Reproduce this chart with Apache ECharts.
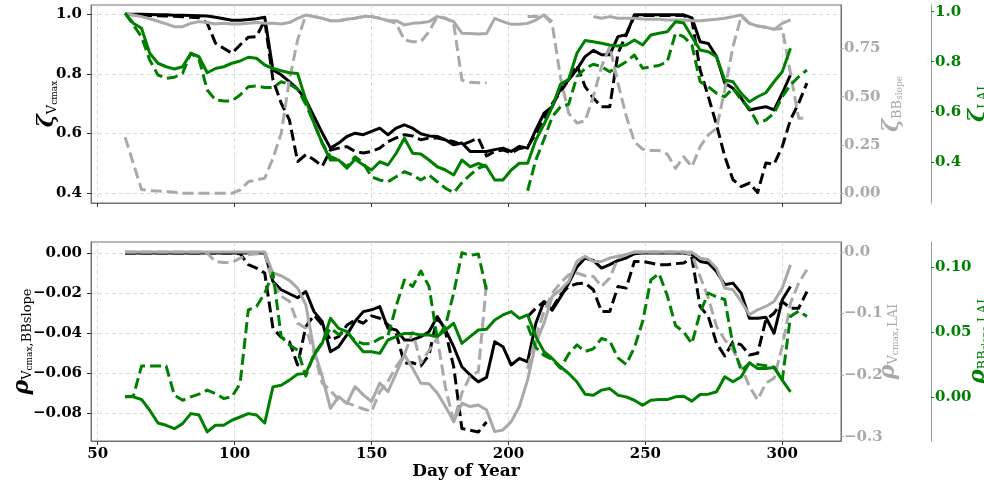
<!DOCTYPE html>
<html>
<head>
<meta charset="utf-8">
<script src="https://cdn.jsdelivr.net/npm/echarts@6/dist/echarts.min.js"></script>
<style>
  html, body { margin: 0; background: #fff; }
  #chart { width: 984px; height: 486px; }
</style>
</head>
<body>
<div id="chart"></div>
<script>
// day of year, one sample every 3 days
const days = [
  60, 63, 66, 69, 72, 75, 78, 81, 84, 87,
  90, 93, 96, 99, 102, 105, 108, 111, 114, 117,
  120, 123, 126, 129, 132, 135, 138, 141, 144, 147,
  150, 153, 156, 159, 162, 165, 168, 171, 174, 177,
  180, 183, 186, 189, 192, 195, 198, 201, 204, 207,
  210, 213, 216, 219, 222, 225, 228, 231, 234, 237,
  240, 243, 246, 249, 252, 255, 258, 261, 264, 267,
  270, 273, 276, 279, 282, 285, 288, 291, 294, 297,
  300, 303, 306, 309
];

// top panel: zeta values
const zetaVcmaxSolid = [
  1.0, 1.0, 1.0, 0.999, 0.998, 0.998, 0.997, 0.997, 0.996, 0.995,
  0.994, 0.99, 0.985, 0.98, 0.98, 0.982, 0.985, 0.99, 0.813, 0.797,
  0.774, 0.749, 0.713, 0.657, 0.602, 0.551, 0.568, 0.59, 0.601, 0.596,
  0.607, 0.618, 0.596, 0.618, 0.629, 0.618, 0.599, 0.592, 0.59, 0.579,
  0.562, 0.568, 0.54, 0.54, 0.54, 0.546, 0.551, 0.54, 0.557, 0.551,
  0.612, 0.668, 0.69, 0.75, 0.78, 0.815, 0.858, 0.879, 0.864, 0.864,
  0.925, 0.931, 0.998, 0.998, 0.998, 0.998, 0.998, 0.998, 0.998, 0.988,
  0.908, 0.902, 0.858, 0.769, 0.752, 0.719, 0.679, 0.685, 0.69, 0.679,
  0.735, 0.797, null, null
];
const zetaVcmaxDash = [
  1.0, 0.998, 0.997, 0.996, 0.995, 0.994, 0.993, 0.992, 0.99, 0.988,
  0.97, 0.903, 0.886, 0.869, 0.897, 0.923, 0.925, 0.98, 0.78, 0.702,
  0.646, 0.506, 0.529, 0.512, 0.49, 0.545, 0.551, 0.556, 0.54, 0.535,
  0.54, 0.551, 0.573, 0.585, 0.596, 0.592, 0.579, 0.585, 0.585, 0.579,
  0.573, 0.562, 0.573, 0.585, 0.525, 0.54, 0.545, 0.535, 0.55, 0.555,
  0.6, 0.65, 0.70, 0.74, 0.78, 0.83, 0.757, 0.719, 0.69, 0.69,
  0.869, 0.931, 0.994, 0.996, 0.996, 0.996, 0.996, 0.996, 0.996, 0.98,
  0.813, 0.724, 0.629, 0.523, 0.445, 0.422, 0.434, 0.402, 0.501, 0.497,
  0.556, 0.646, 0.702, 0.769
];
const zetaBBSolid = [
  0.93, 0.922, 0.914, 0.903, 0.89, 0.876, 0.862, 0.862, 0.879, 0.888,
  0.883, 0.876, 0.879, 0.876, 0.876, 0.879, 0.883, 0.879, 0.879, 0.876,
  0.883, 0.905, 0.922, 0.914, 0.905, 0.893, 0.893, 0.9, 0.905, 0.914,
  0.914, 0.905, 0.893, 0.893, 0.871, 0.879, 0.882, 0.888, 0.914, 0.905,
  0.888, 0.828, 0.826, 0.824, 0.826, 0.905, 0.888, 0.874, 0.874, 0.879,
  0.896, 0.922, 0.888, null, null, null, null, 0.914, 0.905, 0.914,
  0.905, 0.905, 0.905, 0.902, 0.9, 0.9, 0.897, 0.897, 0.897, 0.893,
  0.893, 0.897, 0.9, 0.905, 0.914, 0.922, 0.879, 0.865, 0.859, 0.848,
  0.879, 0.897, null, null
];
const zetaBBDash = [
  0.29, 0.155, 0.02, 0.014, 0.012, 0.01, 0.005, 0.0, 0.0, 0.0,
  0.0, 0.0, 0.0, 0.0, 0.017, 0.06, 0.069, 0.078, 0.181, 0.31,
  0.586, 0.793, 0.922, 0.914, 0.905, 0.893, 0.893, 0.9, 0.905, 0.914,
  0.914, 0.905, 0.893, 0.879, 0.793, 0.784, 0.784, 0.836, 0.914, 0.905,
  0.879, 0.586, 0.574, 0.572, 0.572, null, null, null, null, 0.914,
  0.914, 0.922, 0.875, 0.6, 0.414, 0.364, 0.375, 0.5, 0.655, 0.76,
  0.57, 0.40, 0.267, 0.228, 0.221, 0.221, 0.203, 0.129, 0.189, 0.138,
  0.241, 0.302, 0.336, 0.534, 0.759, 0.914, 0.879, 0.865, 0.859, 0.848,
  0.853, 0.621, 0.388, 0.388
];
const zetaLAISolid = [
  0.994, 0.954, 0.934, 0.834, 0.794, 0.78, 0.771, 0.78, 0.834, 0.82,
  0.756, 0.773, 0.78, 0.794, 0.803, 0.818, 0.814, 0.787, 0.773, 0.764,
  0.756, 0.753, 0.647, 0.554, 0.474, 0.407, 0.407, 0.374, 0.41, 0.387,
  0.367, 0.4, 0.387, 0.434, 0.494, 0.434, 0.431, 0.407, 0.38, 0.367,
  0.347, 0.407, 0.38, 0.393, 0.38, 0.327, 0.327, 0.367, 0.394, 0.394,
  0.487, 0.55, 0.62, 0.71, 0.73, 0.834, 0.885, 0.88, 0.874, 0.867,
  0.863, 0.867, 0.887, 0.867, 0.907, 0.914, 0.92, 0.96, 0.955, 0.9,
  0.847, 0.84, 0.82, 0.727, 0.72, 0.674, 0.64, 0.66, 0.676, 0.72,
  0.76, 0.854, null, null
];
const zetaLAIDash = [
  0.994, 0.947, 0.9, 0.807, 0.747, 0.734, 0.738, 0.754, 0.834, 0.81,
  0.687, 0.647, 0.643, 0.643, 0.667, 0.7, 0.703, 0.697, 0.697, 0.72,
  0.71, 0.69, 0.63, 0.554, 0.474, 0.42, 0.407, 0.38, 0.42, 0.394,
  0.34, 0.327, 0.32, 0.34, 0.36, 0.347, 0.327, 0.347, 0.32, 0.294,
  0.276, 0.316, 0.347, 0.374, 0.387, null, null, null, null, 0.284,
  0.407, 0.49, 0.58, 0.62, 0.63, 0.74, 0.773, 0.79, 0.78, 0.76,
  0.78, 0.80, 0.827, 0.774, 0.78, 0.785, 0.8, 0.913, 0.9, 0.867,
  0.72, 0.7, 0.674, 0.66, 0.694, 0.647, 0.614, 0.554, 0.567, 0.594,
  0.66, 0.707, 0.74, 0.767
];

// bottom panel: rho values
const rhoVcBBSolid = [
  0, 0, 0, 0, 0, 0, 0, 0, 0, 0,
  0, 0, 0, 0, 0, 0, 0, 0, -0.0142, -0.0183,
  -0.0203, -0.0223, -0.0192, -0.0292, -0.0342, -0.0492, -0.0467, -0.0408, -0.034, -0.0292,
  -0.0283, -0.0267, -0.0375, -0.0383, -0.0433, -0.0433, -0.0417, -0.0392, -0.0317, -0.0383,
  -0.0467, -0.0567, -0.0608, -0.0642, -0.062, -0.0442, -0.0467, -0.0558, -0.0525, -0.0542,
  -0.035, -0.0242, -0.0285, -0.022, -0.015, -0.007, -0.0025, -0.0037, -0.0075, -0.0058,
  -0.0037, -0.0025, -0.0003, 0, 0, 0, 0, 0, 0, -0.0008,
  -0.0042, -0.005, -0.0092, -0.0158, -0.015, -0.02, -0.0325, -0.0325, -0.032, -0.04,
  -0.0233, -0.0167, null, null
];
const rhoVcBBDash = [
  0, 0, 0, 0, 0, 0, 0, 0, 0, 0,
  0, 0, 0, 0, -0.0003, -0.0058, -0.0075, -0.01, -0.0375, -0.042,
  -0.0442, -0.0558, -0.0367, -0.031, -0.0358, -0.0433, -0.0417, -0.036, -0.0333, -0.035,
  -0.0313, -0.0325, -0.0358, -0.04, -0.055, -0.0547, -0.0563, -0.0508, -0.032, -0.0392,
  -0.0567, -0.0875, -0.0883, -0.0892, -0.0842, null, null, null, null, -0.0317,
  -0.0275, -0.0242, -0.0275, -0.0208, -0.0167, -0.0153, -0.015, -0.0183, -0.0292, -0.0292,
  -0.0167, -0.0175, -0.0042, -0.0042, -0.005, -0.0058, -0.0058, -0.0053, -0.005, -0.0025,
  -0.0267, -0.0317, -0.045, -0.0513, -0.0442, -0.0458, -0.0508, -0.05, -0.0333, -0.03,
  -0.0242, -0.0275, -0.0275, -0.0192
];
const rhoVcLAISolid = [
  0, 0, 0, 0, 0, 0, 0, 0, 0, 0,
  0, 0, 0, 0, 0, 0, 0, 0, -0.034, -0.0386,
  -0.046, -0.0586, -0.0857, -0.159, -0.202, -0.254, -0.235, -0.246, -0.2185, -0.232,
  -0.243, -0.213, -0.2267, -0.197, -0.167, -0.1887, -0.213, -0.214, -0.229, -0.251,
  -0.2755, -0.2457, -0.251, -0.2484, -0.2565, -0.2918, -0.289, -0.2755, -0.251, -0.2077,
  -0.148, -0.1155, -0.0721, -0.0613, -0.0477, -0.0152, -0.007, -0.0152, -0.0152, -0.0098,
  -0.007, -0.0043, 0, 0, 0, 0, 0, 0, 0, -0.0005,
  -0.0098, -0.0125, -0.026, -0.0586, -0.0613, -0.0803, -0.102, -0.0938, -0.0884, -0.0803,
  -0.0586, -0.0206, null, null
];
const rhoVcLAIDash = [
  0, 0, 0, 0, 0, 0, 0, 0, 0, 0,
  -0.002, -0.0153, -0.017, -0.017, -0.0098, -0.0043, -0.003, -0.002, -0.05, -0.072,
  -0.08, -0.1155, -0.124, -0.164, -0.213, -0.225, -0.24, -0.245, -0.25, -0.255,
  -0.259, -0.227, -0.21, -0.186, -0.167, -0.13, -0.18, -0.16, -0.14, -0.22,
  -0.2755, -0.229, -0.202, -0.194, -0.05, null, null, null, null, -0.19,
  -0.137, -0.0966, -0.0667, -0.0504, -0.037, -0.034, -0.0386, -0.0396, -0.0559, -0.0423,
  -0.0098, -0.0043, 0, 0, 0, 0, 0, 0, 0, -0.0043,
  -0.0396, -0.0748, -0.121, -0.1426, -0.159, -0.186, -0.2185, -0.2402, -0.2131, -0.205,
  -0.1535, -0.083, -0.0504, -0.0287
];
const rhoBBLAISolid = [
  0.0, 0.0, -0.002, -0.0103, -0.0201, -0.0219, -0.0245, -0.0206, -0.0129, -0.014,
  -0.027, -0.0219, -0.0219, -0.018, -0.0155, -0.0129, -0.014, -0.0201, 0.0077, 0.009,
  0.0129, 0.0175, 0.0181, 0.0322, 0.0412, 0.0606, 0.0528, 0.0502, 0.042, 0.0348,
  0.0348, 0.0335, 0.0438, 0.0464, 0.0489, 0.0489, 0.0477, 0.0477, 0.0464, 0.0515,
  0.0567, 0.0412, 0.0464, 0.0515, 0.052, 0.0592, 0.0631, 0.0657, 0.0605, 0.0631,
  0.0464, 0.0348, 0.0296, 0.0232, 0.018, 0.0116, 0.0021, 0.0013, 0.0052, 0.0064,
  0.0013, 0.0, -0.0026, -0.0064, -0.0026, -0.0021, -0.0021, 0.0, 0.0005, -0.0033,
  0.0018, 0.0021, 0.0039, 0.0155, 0.0116, 0.0155, 0.0263, 0.0219, 0.0219, 0.0227,
  0.0129, 0.0039, null, null
];
const rhoBBLAIDash = [
  0.0, 0.0005, 0.0237, 0.0237, 0.0237, 0.0237, 0.0013, -0.0026, 0.0, 0.0021,
  0.0052, 0.0026, -0.0013, 0.0, 0.0103, 0.067, 0.0696, 0.0799, 0.0954, 0.0464,
  0.04, 0.0361, 0.016, 0.033, 0.042, 0.0529, 0.048, 0.0502, 0.043, 0.041,
  0.041, 0.045, 0.047, 0.07, 0.09, 0.085, 0.097, 0.085, 0.045, 0.055,
  0.08, 0.111, 0.109, 0.11, 0.082, null, null, null, null, 0.055,
  0.038, 0.032, 0.029, 0.022, 0.033, 0.04, 0.035, 0.037, 0.045, 0.043,
  0.030, 0.025, 0.038, 0.058, 0.09, 0.095, 0.078, 0.055, 0.05, 0.041,
  0.065, 0.08, 0.077, 0.075, 0.04, 0.02, 0.026, 0.025, 0.024, 0.023,
  0.013, 0.062, 0.066, 0.062
];

// tick positions and their labels
const dayTicks = [50, 100, 150, 200, 250, 300];
const dayLabels = ['50', '100', '150', '200', '250', '300'];
const zetaVcTicks = [0.4, 0.6, 0.8, 1.0];
const zetaVcLabels = ['0.4', '0.6', '0.8', '1.0'];
const zetaBBTicks = [0, 0.25, 0.5, 0.75];
const zetaBBLabels = ['0.00', '0.25', '0.50', '0.75'];
const zetaLAITicks = [0.4, 0.6, 0.8, 1.0];
const zetaLAILabels = ['0.4', '0.6', '0.8', '1.0'];
const rhoVcBBTicks = [-0.08, -0.06, -0.04, -0.02, 0];
const rhoVcBBLabels = ['\u22120.08', '\u22120.06', '\u22120.04', '\u22120.02', '0.00'];
const rhoVcLAITicks = [-0.3, -0.2, -0.1, 0];
const rhoVcLAILabels = ['\u22120.3', '\u22120.2', '\u22120.1', '0.0'];
const rhoBBLAITicks = [0, 0.05, 0.1];
const rhoBBLAILabels = ['0.00', '0.05', '0.10'];

const BLACK = '#000000';
const GRAY = '#a9a9a9';
const GREEN = '#008000';
const FONT = 'DejaVu Serif';
const FRAME = '#707070';

function labelFor(ticks, labels) {
  return function (v) {
    const i = ticks.findIndex(t => Math.abs(t - v) < 1e-9);
    return i >= 0 ? labels[i] : '';
  };
}

// rich text styles for the axis titles (greek letter + subscripts)
function richFor(color) {
  return {
    g: { fontFamily: FONT, fontStyle: 'italic', fontWeight: 'bold', fontSize: 22, lineHeight: 24, color: color },
    s: { fontFamily: FONT, fontSize: 13, lineHeight: 8, verticalAlign: 'bottom', color: color },
    ss: { fontFamily: FONT, fontSize: 9, lineHeight: 2, verticalAlign: 'bottom', color: color }
  };
}

function xAxisFor(grid, showLabels) {
  return {
    type: 'value', gridIndex: grid, min: 47.55, max: 321.45,
    axisLine: { show: true, onZero: false, lineStyle: { color: FRAME, width: 1 } },
    axisTick: { show: true, customValues: dayTicks, length: 4, lineStyle: { color: '#333' } },
    axisLabel: {
      show: showLabels, customValues: dayTicks, formatter: labelFor(dayTicks, dayLabels),
      fontFamily: FONT, fontWeight: 'bold', fontSize: 15, color: BLACK, margin: 6
    },
    splitLine: { show: true, lineStyle: { color: '#d2d2d2', width: 0.8, type: [4, 3] } },
    name: showLabels ? 'Day of Year' : '',
    nameLocation: 'middle', nameGap: 18,
    nameTextStyle: { fontFamily: FONT, fontWeight: 'bold', fontSize: 17, color: BLACK }
  };
}

function yAxisFor(opt) {
  return {
    type: 'value', gridIndex: opt.grid, position: opt.pos, offset: opt.offset || 0,
    min: opt.min, max: opt.max,
    axisLine: { show: true, onZero: false, lineStyle: { color: opt.lineColor || FRAME, width: 1 } },
    axisTick: { show: true, customValues: opt.ticks, length: opt.tickLen || 4, lineStyle: { color: opt.tickColor || '#333' } },
    axisLabel: {
      customValues: opt.ticks, formatter: labelFor(opt.ticks, opt.labels),
      fontFamily: FONT, fontWeight: 'bold', fontSize: 15, color: opt.color, margin: opt.margin
    },
    splitLine: { show: !!opt.split, lineStyle: { color: '#d2d2d2', width: 0.8, type: [4, 3] } },
    name: opt.name, nameLocation: 'middle', nameRotate: 90, nameGap: opt.gap,
    nameMoveOverlap: false,
    nameTextStyle: { rich: richFor(opt.color) }
  };
}

function lineSeries(name, values, color, dashed, grid, yIndex) {
  return {
    name: name, type: 'line', xAxisIndex: grid, yAxisIndex: yIndex,
    data: days.map((d, i) => [d, values[i] === null ? '-' : values[i]]),
    showSymbol: false, symbol: 'none', connectNulls: false, silent: true,
    lineStyle: { color: color, width: 3, type: dashed ? [11, 5] : 'solid', join: 'round' }
  };
}

const chart = echarts.init(document.getElementById('chart'), null, { renderer: 'canvas' });

chart.setOption({
  backgroundColor: '#ffffff',
  animation: false,
  grid: [
    { left: 91, right: 143, top: 5, height: 198, outerBoundsMode: 'none', containLabel: false,
      show: true, borderColor: FRAME, borderWidth: 1 },
    { left: 91, right: 143, top: 242, height: 199, outerBoundsMode: 'none', containLabel: false,
      show: true, borderColor: FRAME, borderWidth: 1 }
  ],
  xAxis: [xAxisFor(0, false), xAxisFor(1, true)],
  yAxis: [
    yAxisFor({ grid: 0, pos: 'left', min: 0.367, max: 1.031, ticks: zetaVcTicks, labels: zetaVcLabels,
      color: BLACK, margin: 9, split: true, name: '{g|\u03B6}{s|V}{ss|cmax}', gap: 32 }),
    yAxisFor({ grid: 0, pos: 'right', min: -0.0502, max: 0.974, ticks: zetaBBTicks, labels: zetaBBLabels,
      color: GRAY, tickColor: GRAY, tickLen: 3, margin: 3, name: '{g|\u03B6}{s|BB}{ss|slope}', gap: 39 }),
    yAxisFor({ grid: 0, pos: 'right', offset: 90, min: 0.235, max: 1.027, ticks: zetaLAITicks, labels: zetaLAILabels,
      color: GREEN, tickColor: GREEN, tickLen: 3, lineColor: '#999999', margin: 4, name: '{g|\u03B6}{s|LAI}', gap: 35 }),
    yAxisFor({ grid: 1, pos: 'left', min: -0.0937, max: 0.0055, ticks: rhoVcBBTicks, labels: rhoVcBBLabels,
      color: BLACK, margin: 9, split: true, name: '{g|\u03C1}{s|V}{ss|cmax}{s|,BBslope}', gap: 57 }),
    yAxisFor({ grid: 1, pos: 'right', min: -0.307, max: 0.0163, ticks: rhoVcLAITicks, labels: rhoVcLAILabels,
      color: GRAY, tickColor: GRAY, tickLen: 3, margin: 3, name: '{g|\u03C1}{s|V}{ss|cmax}{s|,LAI}', gap: 35 }),
    yAxisFor({ grid: 1, pos: 'right', offset: 90, min: -0.034, max: 0.1193, ticks: rhoBBLAITicks, labels: rhoBBLAILabels,
      color: GREEN, tickColor: GREEN, tickLen: 3, lineColor: '#999999', margin: 4, name: '{g|\u03C1}{s|BB}{ss|slope}{s|,LAI}', gap: 35 })
  ],
  series: [
    lineSeries('zVcmax', zetaVcmaxSolid, BLACK, false, 0, 0),
    lineSeries('zVcmax dashed', zetaVcmaxDash, BLACK, true, 0, 0),
    lineSeries('zBB', zetaBBSolid, GRAY, false, 0, 1),
    lineSeries('zBB dashed', zetaBBDash, GRAY, true, 0, 1),
    lineSeries('zLAI', zetaLAISolid, GREEN, false, 0, 2),
    lineSeries('zLAI dashed', zetaLAIDash, GREEN, true, 0, 2),
    lineSeries('rVcBB', rhoVcBBSolid, BLACK, false, 1, 3),
    lineSeries('rVcBB dashed', rhoVcBBDash, BLACK, true, 1, 3),
    lineSeries('rVcLAI', rhoVcLAISolid, GRAY, false, 1, 4),
    lineSeries('rVcLAI dashed', rhoVcLAIDash, GRAY, true, 1, 4),
    lineSeries('rBBLAI', rhoBBLAISolid, GREEN, false, 1, 5),
    lineSeries('rBBLAI dashed', rhoBBLAIDash, GREEN, true, 1, 5)
  ]
});
</script>
</body>
</html>
